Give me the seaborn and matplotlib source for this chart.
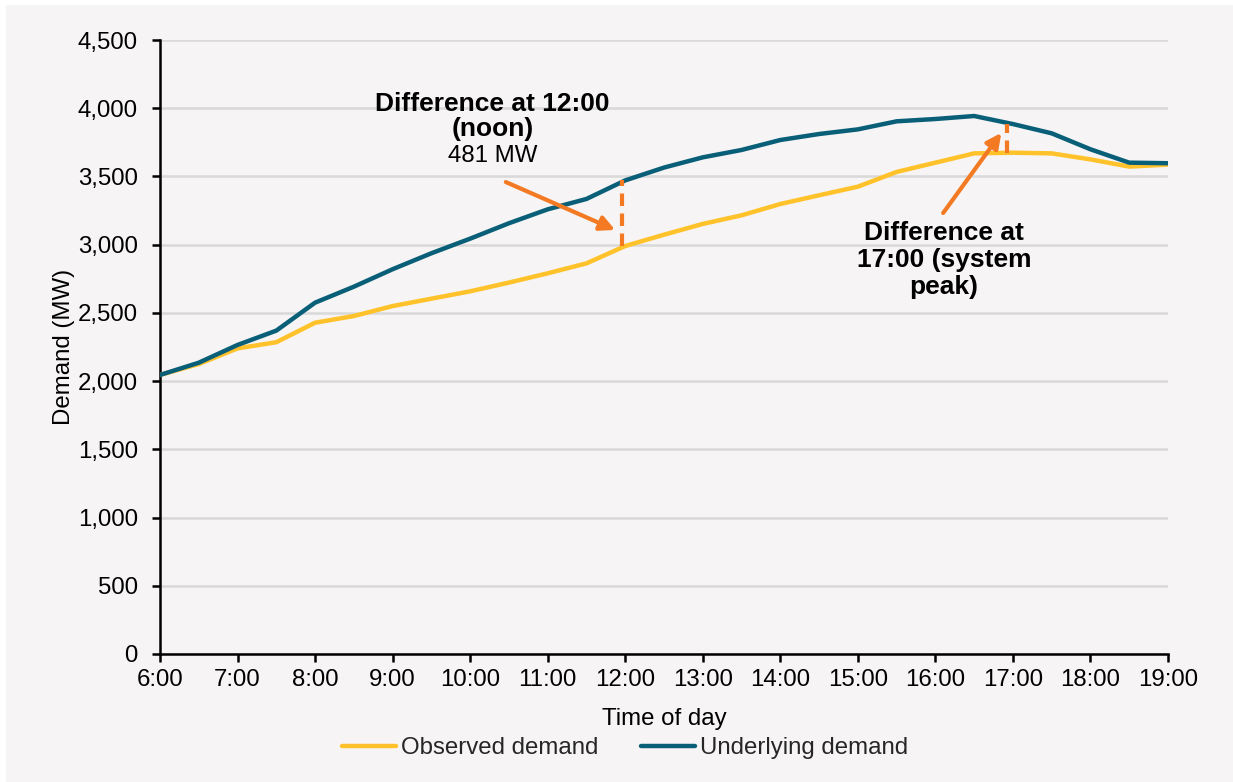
import numpy as np
import pandas as pd
import matplotlib
matplotlib.use("Agg")
import matplotlib.pyplot as plt
from matplotlib.patches import Rectangle
from matplotlib.ticker import FuncFormatter, MultipleLocator
import seaborn as sns

# Half-hourly demand, 6:00 to 19:00 (MW)
time_labels = ["6:00", "6:30", "7:00", "7:30", "8:00", "8:30", "9:00", "9:30",
               "10:00", "10:30", "11:00", "11:30", "12:00", "12:30", "13:00",
               "13:30", "14:00", "14:30", "15:00", "15:30", "16:00", "16:30",
               "17:00", "17:30", "18:00", "18:30", "19:00"]
observed = [2045, 2125, 2240, 2285, 2428, 2477, 2550, 2604, 2658, 2722, 2790,
            2863, 2990, 3073, 3152, 3215, 3298, 3362, 3425, 3533, 3601, 3669,
            3674, 3669, 3625, 3572, 3587]
underlying = [2045, 2135, 2265, 2370, 2575, 2692, 2820, 2937, 3044, 3157, 3259,
              3335, 3471, 3565, 3640, 3694, 3767, 3811, 3845, 3904, 3921, 3943,
              3884, 3816, 3699, 3601, 3597]
series_names = ["Observed demand", "Underlying demand"]
x_tick_labels = ["6:00", "7:00", "8:00", "9:00", "10:00", "11:00", "12:00",
                 "13:00", "14:00", "15:00", "16:00", "17:00", "18:00", "19:00"]


def to_hours(label):
    h, m = label.split(":")
    return int(h) + int(m) / 60.0


hours = [to_hours(t) for t in time_labels]
df = pd.DataFrame({
    "hour": hours * 2,
    "demand": observed + underlying,
    "series": [series_names[0]] * len(hours) + [series_names[1]] * len(hours),
})

YELLOW = "#FFC22A"
TEAL = "#0A5F78"
ORANGE = "#F37A22"
BG = "#F6F4F4"
FS = 17.3

sns.set_theme(style="white")
plt.rcParams["font.family"] = ["Liberation Sans", "DejaVu Sans"]

fig = plt.figure(figsize=(12.33, 7.82), dpi=100, facecolor="white")
fig.patches.append(Rectangle((6 / 1233, 0), 1 - 6 / 1233, 1 - 5 / 782,
                             transform=fig.transFigure, facecolor=BG,
                             edgecolor="none", zorder=-10))
ax = fig.add_axes([160 / 1233, 1 - 654 / 782, (1168 - 160) / 1233, (654 - 40) / 782])
ax.set_facecolor(BG)

sns.lineplot(data=df, x="hour", y="demand", hue="series",
             palette=[YELLOW, TEAL], linewidth=3.2, ax=ax, zorder=3)

ax.set_xlim(6, 19)
ax.set_ylim(0, 4500)
ax.yaxis.set_major_locator(MultipleLocator(500))
ax.yaxis.set_major_formatter(FuncFormatter(lambda v, p: f"{int(v):,}"))
ax.set_xticks([to_hours(t) for t in x_tick_labels])
ax.set_xticklabels(x_tick_labels)
ax.grid(axis="y", color="#D9D9D9", linewidth=1.8, zorder=0)
ax.grid(axis="x", visible=False)
for side in ["top", "right"]:
    ax.spines[side].set_visible(False)
for side in ["left", "bottom"]:
    ax.spines[side].set_color("black")
    ax.spines[side].set_linewidth(1.8)
ax.tick_params(axis="both", direction="out", length=6, width=1.8,
               color="black", labelsize=FS, labelcolor="black")
ax.tick_params(axis="x", bottom=True, pad=5)
ax.tick_params(axis="y", left=True, pad=10)

ax.set_ylabel("Demand (MW)", fontsize=FS, color="black", labelpad=2)
ax.set_xlabel("Time of day", fontsize=FS, color="black", labelpad=12)

# Gap between the two series at noon and at the system peak
i_noon = time_labels.index("12:00")
i_peak = time_labels.index("17:00")
ax.vlines(11.96, observed[i_noon], underlying[i_noon], colors=ORANGE,
          linestyles=(0, (3, 1.8)), linewidth=3, zorder=4)
ax.vlines(16.93, observed[i_peak], underlying[i_peak], colors=ORANGE,
          linestyles=(0, (3, 1.8)), linewidth=3, zorder=4)

arrow_kw = dict(arrowstyle="-|>", color=ORANGE, lw=3, mutation_scale=22,
                shrinkA=0, shrinkB=0)
ax.annotate("", xy=(11.87, 3108), xytext=(10.46, 3459), arrowprops=arrow_kw,
            zorder=5)
ax.annotate("", xy=(16.85, 3819), xytext=(16.10, 3232), arrowprops=arrow_kw,
            zorder=5)

BFS = 19
ax.text(10.29, 4031, "Difference at 12:00", ha="center", va="center",
        fontsize=BFS, fontweight="bold", color="black")
ax.text(10.29, 3848, "(noon)", ha="center", va="center",
        fontsize=BFS, fontweight="bold", color="black")
ax.text(10.29, 3650, f"{underlying[i_noon] - observed[i_noon]} MW",
        ha="center", va="center", fontsize=FS, color="black")

ax.text(16.11, 3086, "Difference at", ha="center", va="center",
        fontsize=BFS, fontweight="bold", color="black")
ax.text(16.11, 2888, "17:00 (system", ha="center", va="center",
        fontsize=BFS, fontweight="bold", color="black")
ax.text(16.11, 2690, "peak)", ha="center", va="center",
        fontsize=BFS, fontweight="bold", color="black")

handles, labels = ax.get_legend_handles_labels()
ax.legend(handles, labels, loc="center", bbox_to_anchor=(625 / 1233, 1 - 748 / 782),
          bbox_transform=fig.transFigure, ncol=2, frameon=False, fontsize=FS,
          handlelength=2.25, handletextpad=0.2, columnspacing=1.8)

fig.savefig("out.png", dpi=100, facecolor=fig.get_facecolor())
